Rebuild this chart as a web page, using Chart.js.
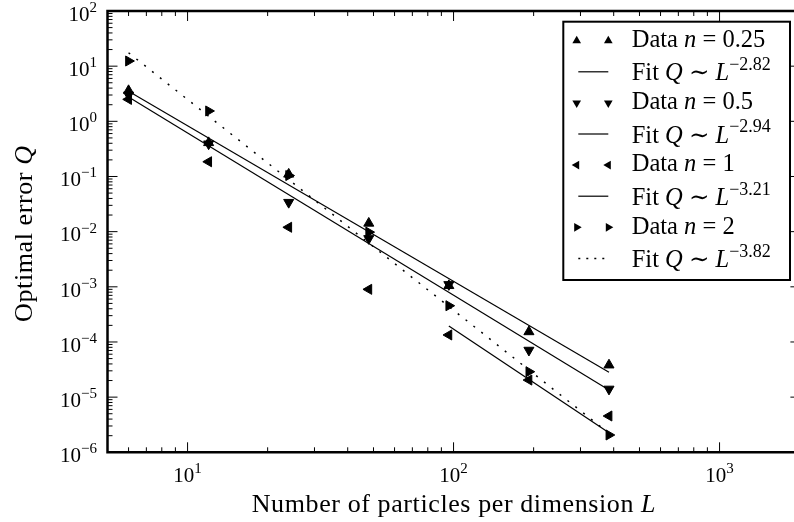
<!DOCTYPE html>
<html>
<head>
<meta charset="utf-8">
<title>Optimal error vs. particles per dimension</title>
<script src="https://cdn.jsdelivr.net/npm/chart.js"></script>
<style>
  html, body { margin: 0; padding: 0; background: #fff; }
  canvas { display: block; }
</style>
</head>
<body>
<canvas id="errorChart" width="794" height="522"></canvas>
<script>
// particles per dimension L
const sizes = [6, 12, 24, 48, 96, 192, 384];

// optimal error Q for each exponent n
const errN025 = [3.6, 0.41, 0.11, 0.0142, 0.00105, 1.53e-4, 3.82e-5];
const errN05 = [3.0, 0.39, 0.034, 0.0075, 0.0011, 7.1e-5, 1.40e-5];
const errN1 = [2.5, 0.185, 0.012, 9.0e-4, 1.34e-4, 2.04e-5, 4.55e-6];
const errN2 = [12.4, 1.54, 0.104, 0.0098, 4.54e-4, 2.89e-5, 2.06e-6];

const seriesN = ['0.25', '0.5', '1', '2'];
const seriesErr = [errN025, errN05, errN1, errN2];
const markerTurn = [0, 180, 270, 90]; // up, down, left, right

// power-law fits Q ~ L^exp, drawn between fitFrom and fitTo
const fitExp = [-2.82, -2.94, -3.21, -3.82];
const fitFrom = [6, 6, 96, 6];
const fitTo = [384, 384, 384, 384];
const fitStart = [3.5, 2.75, 1.94e-4, 17.5];

const xTickPowers = [1, 2, 3];
const yTickPowers = [-6, -5, -4, -3, -2, -1, 0, 1, 2];

const SERIF = '"Liberation Serif", "DejaVu Serif", serif';
const dotted = [2, 8];
const rightOverhang = 6.4; // the right spine sits just past the canvas edge

function fontFor(style, size) {
    if (style === 's') return Math.round(size * 0.72) + 'px ' + SERIF;
    if (style === 'i') return 'italic ' + size + 'px ' + SERIF;
    return size + 'px ' + SERIF;
}

function richWidth(ctx, parts, size) {
    let w = 0;
    parts.forEach(p => {
        ctx.font = fontFor(p[1], size);
        w += ctx.measureText(p[0]).width;
    });
    return w;
}

// draws text made of plain / italic / superscript pieces
function drawRich(ctx, parts, x, y, size) {
    ctx.textAlign = 'left';
    ctx.textBaseline = 'alphabetic';
    let cx = x;
    parts.forEach(p => {
        ctx.font = fontFor(p[1], size);
        const dy = p[1] === 's' ? -0.42 * size : 0;
        ctx.fillText(p[0], cx, y + dy);
        cx += ctx.measureText(p[0]).width;
    });
}

function powerLabel(p) {
    return [['10', ''], [String(p).replace('-', '\u2212'), 's']];
}

function triangle(ctx, x, y, r, turn) {
    ctx.save();
    ctx.translate(x, y);
    ctx.rotate(turn * Math.PI / 180);
    ctx.beginPath();
    ctx.moveTo(0, -r);
    ctx.lineTo(r * 0.866, r * 0.5);
    ctx.lineTo(-r * 0.866, r * 0.5);
    ctx.closePath();
    ctx.fill();
    ctx.restore();
}

let datasets = [];
for (let i = 0; i < seriesErr.length; i++) {
    datasets.push({
        label: 'Data n = ' + seriesN[i],
        data: sizes.map((L, j) => ({ x: L, y: seriesErr[i][j] })),
        showLine: false,
        pointStyle: 'triangle',
        rotation: markerTurn[i],
        pointRadius: 5.8,
        backgroundColor: '#000',
        borderColor: '#000',
        borderWidth: 1
    });
    let endVal = fitStart[i] * Math.pow(fitTo[i] / fitFrom[i], fitExp[i]);
    datasets.push({
        label: 'Fit Q ~ L^' + fitExp[i],
        data: [{ x: fitFrom[i], y: fitStart[i] }, { x: fitTo[i], y: endVal }],
        showLine: true,
        pointRadius: 0,
        borderColor: '#000',
        borderWidth: i === 3 ? 1.5 : 1.2,
        borderDash: i === 3 ? dotted : []
    });
}

// frame, inward ticks, tick labels, axis titles and legend
const decorations = {
    id: 'decorations',
    beforeDraw(chart) {
        const ctx = chart.ctx;
        ctx.save();
        ctx.fillStyle = '#fff';
        ctx.fillRect(0, 0, chart.width, chart.height);
        ctx.restore();
    },
    afterDraw(chart) {
        const ctx = chart.ctx;
        const a = chart.chartArea;
        const xs = chart.scales.x;
        const ys = chart.scales.y;
        const frameRight = a.right + rightOverhang;
        ctx.save();
        ctx.strokeStyle = '#000';
        ctx.fillStyle = '#000';

        // ticks
        ctx.lineWidth = 1;
        ctx.beginPath();
        for (let d = 0; d <= 3; d++) {
            for (let k = 1; k <= 9; k++) {
                let v = k * Math.pow(10, d);
                if (v <= xs.min || v >= xs.max) continue;
                let px = xs.getPixelForValue(v);
                let len = k === 1 ? 10 : 5;
                ctx.moveTo(px, a.bottom); ctx.lineTo(px, a.bottom - len);
                ctx.moveTo(px, a.top); ctx.lineTo(px, a.top + len);
            }
        }
        for (let d = -6; d <= 2; d++) {
            for (let k = 1; k <= 9; k++) {
                let v = k * Math.pow(10, d);
                if (v <= ys.min * 0.999 || v >= ys.max * 1.001) continue;
                let py = ys.getPixelForValue(v);
                let len = k === 1 ? 10 : 5;
                ctx.moveTo(a.left, py); ctx.lineTo(a.left + len, py);
                ctx.moveTo(frameRight, py); ctx.lineTo(frameRight - len, py);
            }
        }
        ctx.stroke();

        // spines (left, top, bottom; the right one is off the canvas)
        ctx.lineWidth = 2.5;
        ctx.beginPath();
        ctx.moveTo(frameRight, a.top);
        ctx.lineTo(a.left, a.top);
        ctx.lineTo(a.left, a.bottom);
        ctx.lineTo(frameRight, a.bottom);
        ctx.stroke();

        // tick labels
        const tickSize = 21;
        xTickPowers.forEach(p => {
            let parts = powerLabel(p);
            let w = richWidth(ctx, parts, tickSize);
            let px = xs.getPixelForValue(Math.pow(10, p));
            drawRich(ctx, parts, px - w / 2, a.bottom + 29.4, tickSize);
        });
        yTickPowers.forEach(p => {
            let parts = powerLabel(p);
            let w = richWidth(ctx, parts, tickSize);
            let py = ys.getPixelForValue(Math.pow(10, p));
            drawRich(ctx, parts, a.left - 10.5 - w, py + 9.8, tickSize);
        });

        // axis titles
        const titleSize = 26;
        ctx.letterSpacing = '0.6px';
        let xTitle = [['Number of particles per dimension ', ''], ['L', 'i']];
        let w = richWidth(ctx, xTitle, titleSize);
        drawRich(ctx, xTitle, (a.left + frameRight) / 2 - w / 2, 511.7, titleSize);

        let yTitle = [['Optimal error ', ''], ['Q', 'i']];
        w = richWidth(ctx, yTitle, titleSize);
        ctx.save();
        ctx.translate(31.5, (a.top + a.bottom) / 2 + 2);
        ctx.rotate(-Math.PI / 2);
        drawRich(ctx, yTitle, -w / 2, 0, titleSize);
        ctx.restore();
        ctx.letterSpacing = '0px';

        // legend
        const box = { x: 563.3, y: 21.7, w: 226.7, h: 258.3 };
        ctx.fillStyle = '#fff';
        ctx.fillRect(box.x, box.y, box.w, box.h);
        ctx.fillStyle = '#000';
        ctx.lineWidth = 2;
        ctx.strokeRect(box.x, box.y, box.w, box.h);

        const legendSize = 24.5;
        for (let i = 0; i < seriesN.length; i++) {
            let dataY = 40.7 + (2 * i) * 31.1;
            let fitY = dataY + 31.1;

            triangle(ctx, 576.7, dataY, 5, markerTurn[i]);
            triangle(ctx, 608.3, dataY, 5, markerTurn[i]);
            drawRich(ctx, [['Data ', ''], ['n', 'i'], [' = ' + seriesN[i], '']],
                631.7, dataY + 6.3, legendSize);

            ctx.lineWidth = i === 3 ? 1.5 : 1.2;
            ctx.setLineDash(i === 3 ? [2, 6] : []);
            ctx.beginPath();
            ctx.moveTo(578.3, fitY);
            ctx.lineTo(608.3, fitY);
            ctx.stroke();
            ctx.setLineDash([]);
            drawRich(ctx, [['Fit ', ''], ['Q', 'i'], [' \u223C ', ''], ['L', 'i'],
                [fitExp[i].toFixed(2).replace('-', '\u2212'), 's']],
                631.7, fitY + 8.6, legendSize);
        }
        ctx.restore();
    }
};

const canvas = document.getElementById('errorChart');
const errorChart = new Chart(canvas, {
    type: 'scatter',
    data: { datasets: datasets },
    options: {
        responsive: false,
        animation: false,
        devicePixelRatio: 1,
        events: [],
        layout: {
            autoPadding: false,
            padding: { left: 107.5, top: 11, right: 0, bottom: 69.7 }
        },
        plugins: {
            legend: { display: false },
            tooltip: { enabled: false }
        },
        scales: {
            x: { type: 'logarithmic', min: 5, max: 1905, display: false },
            y: { type: 'logarithmic', min: 1e-6, max: 100, display: false }
        }
    },
    plugins: [decorations]
});
</script>
</body>
</html>
